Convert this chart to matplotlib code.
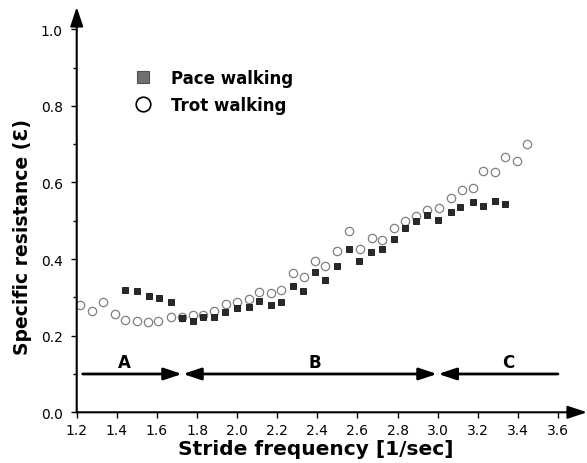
import matplotlib
matplotlib.use('Agg')
import matplotlib.pyplot as plt
from matplotlib.lines import Line2D

# Pace walking (filled squares)
pace_x = [1.44, 1.50, 1.56, 1.61, 1.67, 1.725, 1.78, 1.83, 1.885, 1.94,
          2.00, 2.06, 2.11, 2.17, 2.22, 2.28, 2.33, 2.39, 2.44, 2.50,
          2.56, 2.61, 2.67, 2.725, 2.78, 2.835, 2.89, 2.945, 3.00, 3.065,
          3.11, 3.175, 3.225, 3.285, 3.335]
pace_y = [0.320, 0.316, 0.303, 0.298, 0.289, 0.245, 0.238, 0.250, 0.250, 0.262,
          0.272, 0.275, 0.291, 0.280, 0.287, 0.329, 0.316, 0.366, 0.345, 0.381,
          0.425, 0.394, 0.419, 0.425, 0.453, 0.480, 0.500, 0.516, 0.503, 0.523,
          0.536, 0.548, 0.539, 0.552, 0.545]

# Trot walking (open circles)
trot_x = [1.215, 1.275, 1.33, 1.39, 1.44, 1.50, 1.555, 1.605, 1.67, 1.725,
          1.78, 1.83, 1.885, 1.945, 2.00, 2.06, 2.11, 2.17, 2.22, 2.28,
          2.335, 2.39, 2.44, 2.50, 2.56, 2.615, 2.675, 2.725, 2.78, 2.835,
          2.89, 2.945, 3.005, 3.065, 3.12, 3.175, 3.225, 3.285, 3.335, 3.395,
          3.445]
trot_y = [0.280, 0.265, 0.287, 0.257, 0.242, 0.237, 0.235, 0.239, 0.248, 0.250,
          0.253, 0.255, 0.265, 0.283, 0.287, 0.297, 0.315, 0.311, 0.319, 0.364,
          0.352, 0.395, 0.381, 0.421, 0.473, 0.425, 0.454, 0.451, 0.481, 0.500,
          0.512, 0.528, 0.532, 0.560, 0.581, 0.585, 0.631, 0.627, 0.666, 0.655,
          0.700]

# Regions along stride frequency
region_names = ['A', 'B', 'C']
region_label_x = [1.44, 2.385, 3.35]
region_bounds = [1.23, 1.73, 3.003, 3.6]

xticks = [1.2, 1.4, 1.6, 1.8, 2.0, 2.2, 2.4, 2.6, 2.8, 3.0, 3.2, 3.4, 3.6]
yticks = [0.0, 0.2, 0.4, 0.6, 0.8, 1.0]

fig = plt.figure(figsize=(5.87, 4.64), dpi=100)
ax = fig.add_axes([0.1307, 0.1093, 0.8693, 0.8735])

ax.plot(trot_x, trot_y, 'o', ms=6, mfc='none', mec='#808080', mew=0.9,
        zorder=2)
ax.plot(pace_x, pace_y, 's', ms=5, mfc='#2a2a2a', mec='#111111', mew=0.6,
        zorder=3)

ax.set_xlim(1.2, 3.745)
ax.set_ylim(0, 1.058)

for s in ax.spines.values():
    s.set_visible(False)
arrow = dict(arrowstyle='-|>,head_length=0.9,head_width=0.3', lw=1.5,
             color='k', mutation_scale=13, shrinkA=0, shrinkB=0)
ax.annotate('', xy=(1, 0), xytext=(0, 0), xycoords='axes fraction',
            arrowprops=arrow, annotation_clip=False)
ax.annotate('', xy=(0, 1), xytext=(0, 0), xycoords='axes fraction',
            arrowprops=arrow, annotation_clip=False)

ax.set_xticks(xticks)
ax.set_xticklabels(['%.1f' % v for v in xticks])
ax.set_yticks(yticks)
ax.set_yticklabels(['%.1f' % v for v in yticks])
ax.set_yticks([0.1, 0.3, 0.5, 0.7, 0.9], minor=True)
ax.tick_params(axis='both', which='major', direction='out', length=4,
               width=1, labelsize=10)
ax.tick_params(axis='x', pad=3.5)
ax.tick_params(axis='y', pad=6)
ax.tick_params(axis='y', which='minor', direction='out', length=3, width=1)

ax.set_xlabel('Stride frequency [1/sec]', fontsize=14.5, fontweight='bold')
ax.xaxis.set_label_coords(0.469, -0.066)
ax.set_ylabel('Specific resistance (Ɛ)', fontsize=13.5, fontweight='bold')
ax.yaxis.set_label_coords(-0.088, 0.435)

# region arrows
head = 'head_length=0.9,head_width=0.3'
ax.annotate('', xy=(region_bounds[1] - 0.005, 0.1), xytext=(region_bounds[0], 0.1),
            arrowprops=dict(arrowstyle='-|>,' + head, lw=2, color='k',
                            mutation_scale=12, shrinkA=0, shrinkB=0))
ax.annotate('', xy=(region_bounds[2] - 0.006, 0.1), xytext=(region_bounds[1], 0.1),
            arrowprops=dict(arrowstyle='<|-|>,' + head, lw=2, color='k',
                            mutation_scale=12, shrinkA=0, shrinkB=0))
ax.annotate('', xy=(region_bounds[2], 0.1), xytext=(region_bounds[3], 0.1),
            arrowprops=dict(arrowstyle='-|>,' + head, lw=2, color='k',
                            mutation_scale=12, shrinkA=0, shrinkB=0))
for name, xv in zip(region_names, region_label_x):
    ax.text(xv, 0.13, name, ha='center', va='center', fontsize=12,
            fontweight='bold')

handles = [Line2D([], [], ls='none', marker='s', ms=8, mfc='#707070',
                  mec='#505050', mew=0.8),
           Line2D([], [], ls='none', marker='o', ms=10.5, mfc='none',
                  mec='k', mew=1.2)]
fig.legend(handles, ['Pace walking', 'Trot walking'], loc='upper left',
           bbox_to_anchor=(126 / 587, 1 - 70 / 464), frameon=False,
           prop=dict(size=12, weight='bold'), borderpad=0, borderaxespad=0,
           handletextpad=0.7, labelspacing=0.55)

fig.savefig('out.png', dpi=100)
